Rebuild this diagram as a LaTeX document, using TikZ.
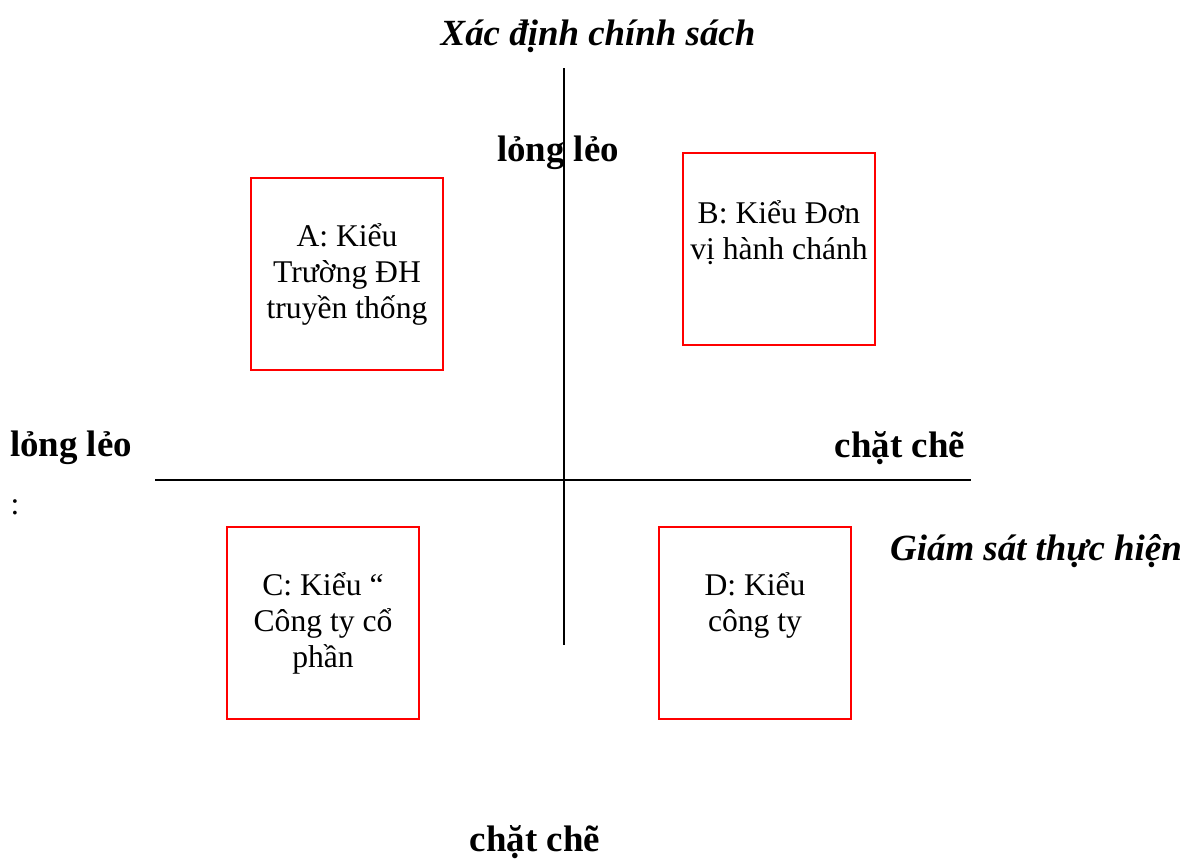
\documentclass[tikz,border=0pt]{standalone}
\usepackage{fontspec}
\setmainfont{Liberation Serif}
\usepackage{xcolor}
\usepackage{tikz}
\tikzstyle{box} = [draw=red, line width=1pt, minimum width=3.84cm, minimum height=3.84cm, inner sep=0pt]
\tikzstyle{boxtext} = [align=center, font=\fontsize{18}{20.5}\selectfont, inner sep=0pt]
\tikzstyle{axislabel} = [font=\fontsize{21}{24}\selectfont\bfseries, inner sep=0pt]
\tikzstyle{axistitle} = [font=\fontsize{21}{24}\selectfont\bfseries\itshape, inner sep=0pt]
\tikzset{
  axis/.style ={draw, line width=1.1pt}
}

\begin{document}
\begin{tikzpicture}[x=0.02cm,y=-0.02cm]
	\useasboundingbox (0,0) rectangle (1186,860);
	% axes
	\coordinate (vtop) at (564,68);
	\coordinate (vbot) at (564,645);
	\coordinate (hleft) at (155,480);
	\coordinate (hright) at (971,480);
	\draw [axis] (vtop) -- (vbot);
	\draw [axis] (hleft) -- (hright);

	\node [axistitle] (title) at (598,36) {Xác định chính sách};
	\node [axistitle] (giamsat) at (1036,551) {Giám sát thực hiện};
	\node [axislabel] (toploose) at (558,153) {lỏng lẻo};
	\node [axislabel] (leftloose) at (71,448) {lỏng lẻo};
	\node [boxtext] (colon) at (15,507) {:};
	\node [axislabel] (rightstrict) at (900,448) {chặt chẽ};
	\node [axislabel] (botstrict) at (535,842) {chặt chẽ};

	% the four kinds
	\node [box] (A) at (347,274) {};
	\node [boxtext] (Atext) at (347,274) {A: Kiểu\\Trường ĐH\\truyền thống};
	\node [box] (B) at (779,249) {};
	\node [boxtext] (Btext) at (779,233) {B: Kiểu Đơn\\vị hành chánh};
	\node [box] (C) at (323,623) {};
	\node [boxtext] (Ctext) at (323,623) {C: Kiểu “\\Công ty cổ\\phần};
	\node [box] (D) at (755,623) {};
	\node [boxtext] (Dtext) at (755,605) {D: Kiểu\\công ty};
\end{tikzpicture}
\end{document}
